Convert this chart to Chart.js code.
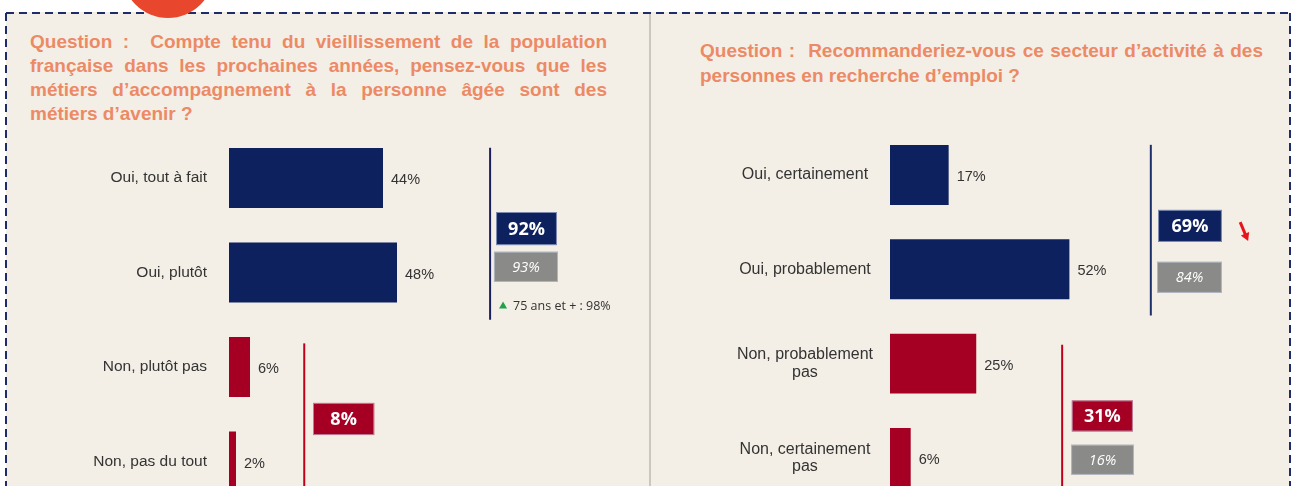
<!DOCTYPE html>
<html>
<head>
<meta charset="utf-8">
<script src="https://cdn.jsdelivr.net/npm/chart.js@4.4.1/dist/chart.umd.min.js"></script>
<style>
  html, body { margin: 0; padding: 0; width: 1296px; height: 486px; overflow: hidden; background: #fff; }
  #bg { position: absolute; left: 0; top: 0; }
  .q { position: absolute; font: bold 19px "Liberation Sans", Arial, sans-serif; color: #ec8a66; }
  .q div { text-align: justify; text-align-last: justify; }
  .q div.last { text-align-last: left; }
  #q1 { left: 30px; top: 30px; width: 577px; line-height: 24px; }
  #q2 { left: 700px; top: 38px; width: 563px; line-height: 25px; }
  canvas { position: absolute; }
  #c1 { left: 0; top: 0; }
  #c2 { left: 650px; top: 0; }
</style>
</head>
<body>
<svg id="bg" width="1296" height="486">
  <rect x="6" y="12" width="1284" height="474" fill="#f4efe6"/>
  <line x1="650" y1="12" x2="650" y2="486" stroke="#cbc6be" stroke-width="2"/>
  <line x1="6" y1="13" x2="1290" y2="13" stroke="#1e2d6a" stroke-width="2" stroke-dasharray="8 5"/>
  <line x1="6" y1="13" x2="6" y2="486" stroke="#1e2d6a" stroke-width="2" stroke-dasharray="8 5"/>
  <line x1="1290" y1="13" x2="1290" y2="486" stroke="#1e2d6a" stroke-width="2" stroke-dasharray="8 5"/>
  <circle cx="168" cy="-28" r="46" fill="#e8472d"/>
</svg>
<div class="q" id="q1">
  <div>Question :&nbsp; Compte tenu du vieillissement de la population</div>
  <div>française dans les prochaines années, pensez-vous que les</div>
  <div>métiers d’accompagnement à la personne âgée sont des</div>
  <div class="last">métiers d’avenir ?</div>
</div>
<div class="q" id="q2">
  <div>Question :&nbsp; Recommanderiez-vous ce secteur d’activité à des</div>
  <div class="last">personnes en recherche d’emploi ?</div>
</div>
<canvas id="c1" width="650" height="540"></canvas>
<canvas id="c2" width="646" height="540"></canvas>
<script>
// left question
const leftCategories = ['Oui, tout à fait', 'Oui, plutôt', 'Non, plutôt pas', 'Non, pas du tout'];
const leftValues = [44, 48, 6, 2];
const leftYes = 92;
const leftYesBefore = 93;
const leftNo = 8;
const leftNote = '75 ans et + : 98%';

// right question
const rightCategories = ['Oui, certainement', 'Oui, probablement', ['Non, probablement', 'pas'], ['Non, certainement', 'pas']];
const rightValues = [17, 52, 25, 6];
const rightYes = 69;
const rightYesBefore = 84;
const rightNo = 31;
const rightNoBefore = 16;

const NAVY = '#0c215e';
const RED = '#a50023';
const GREY = '#8a8a88';
const TXT = '#333333';
const FONT = '"Liberation Sans", Arial, sans-serif';

const valueLabels = {
  id: 'valueLabels',
  afterDatasetsDraw(chart) {
    const ctx = chart.ctx;
    const meta = chart.getDatasetMeta(0);
    ctx.save();
    ctx.font = '14.5px ' + FONT;
    ctx.fillStyle = TXT;
    ctx.textBaseline = 'middle';
    ctx.textAlign = 'left';
    meta.data.forEach((bar, i) => {
      ctx.fillText(chart.data.datasets[0].data[i] + '%', bar.x + 8, bar.y + 2);
    });
    ctx.restore();
  }
};

// small helpers for the summary marks; x in % units, y in category units
function vline(chart, x, y0, y1, color) {
  const ctx = chart.ctx, xs = chart.scales.x, ys = chart.scales.y;
  ctx.save();
  ctx.strokeStyle = color;
  ctx.lineWidth = 2;
  ctx.beginPath();
  ctx.moveTo(xs.getPixelForValue(x), ys.getPixelForValue(y0));
  ctx.lineTo(xs.getPixelForValue(x), ys.getPixelForValue(y1));
  ctx.stroke();
  ctx.restore();
}

function box(chart, x0, x1, y0, y1, fill, text, font) {
  const ctx = chart.ctx, xs = chart.scales.x, ys = chart.scales.y;
  const l = xs.getPixelForValue(x0), r = xs.getPixelForValue(x1);
  const t = ys.getPixelForValue(y0), b = ys.getPixelForValue(y1);
  ctx.save();
  ctx.fillStyle = fill;
  ctx.fillRect(l, t, r - l, b - t);
  ctx.strokeStyle = 'rgba(200,210,230,0.6)';
  ctx.lineWidth = 1;
  ctx.strokeRect(l + 0.5, t + 0.5, r - l - 1, b - t - 1);
  ctx.fillStyle = '#fff';
  ctx.font = font;
  ctx.textAlign = 'center';
  ctx.textBaseline = 'middle';
  ctx.fillText(text, (l + r) / 2, (t + b) / 2 + 1);
  ctx.restore();
}

const BIG = 'bold 18px "Open Sans", sans-serif';
const SMALL = 'italic 14.5px "Open Sans", sans-serif';

const leftSummary = {
  id: 'leftSummary',
  afterDatasetsDraw(chart) {
    vline(chart, 74.6, -0.32, 1.5, '#1b1f5e');
    box(chart, 76.3, 93.7, 0.36, 0.71, NAVY, leftYes + '%', BIG);
    box(chart, 75.7, 94.0, 0.78, 1.1, GREY, leftYesBefore + '%', SMALL);
    vline(chart, 21.5, 1.75, 3.4, '#c0001a');
    box(chart, 24.0, 41.5, 2.38, 2.72, RED, leftNo + '%', BIG);
    const ctx = chart.ctx, xs = chart.scales.x, ys = chart.scales.y;
    const ty = ys.getPixelForValue(1.35);
    const tx = xs.getPixelForValue(78.3);
    ctx.save();
    ctx.fillStyle = '#1fa34a';
    ctx.beginPath();
    ctx.moveTo(tx, ty - 4);
    ctx.lineTo(tx + 4, ty + 3);
    ctx.lineTo(tx - 4, ty + 3);
    ctx.closePath();
    ctx.fill();
    ctx.fillStyle = TXT;
    ctx.font = '12.5px "Open Sans", sans-serif';
    ctx.textBaseline = 'middle';
    ctx.fillText(leftNote, tx + 10, ty + 1);
    ctx.restore();
  }
};

const rightSummary = {
  id: 'rightSummary',
  afterDatasetsDraw(chart) {
    vline(chart, 75.6, -0.32, 1.49, '#1b2f6a');
    box(chart, 77.7, 96.2, 0.37, 0.71, NAVY, rightYes + '%', BIG);
    box(chart, 77.4, 96.2, 0.92, 1.25, GREY, rightYesBefore + '%', SMALL);
    vline(chart, 49.9, 1.8, 3.4, '#c0001a');
    box(chart, 52.7, 70.4, 2.39, 2.72, RED, rightNo + '%', BIG);
    box(chart, 52.5, 70.7, 2.86, 3.18, GREY, rightNoBefore + '%', SMALL);
    // red arrow: going down
    const ctx = chart.ctx, xs = chart.scales.x, ys = chart.scales.y;
    const x0 = xs.getPixelForValue(101.5), y0 = ys.getPixelForValue(0.5);
    const x1 = xs.getPixelForValue(103.8), y1 = ys.getPixelForValue(0.7);
    const a = Math.atan2(y1 - y0, x1 - x0);
    ctx.save();
    ctx.strokeStyle = '#e8141c';
    ctx.fillStyle = '#e8141c';
    ctx.lineWidth = 3;
    ctx.beginPath();
    ctx.moveTo(x0, y0);
    ctx.lineTo(x1 - 5 * Math.cos(a), y1 - 5 * Math.sin(a));
    ctx.stroke();
    ctx.beginPath();
    ctx.moveTo(x1, y1);
    ctx.lineTo(x1 - 8 * Math.cos(a) + 4.5 * Math.sin(a), y1 - 8 * Math.sin(a) - 4.5 * Math.cos(a));
    ctx.lineTo(x1 - 8 * Math.cos(a) - 4.5 * Math.sin(a), y1 - 8 * Math.sin(a) + 4.5 * Math.cos(a));
    ctx.closePath();
    ctx.fill();
    ctx.restore();
  }
};

function makeChart(id, labels, values, opts, extra) {
  return new Chart(document.getElementById(id), {
    type: 'bar',
    data: {
      labels: labels,
      datasets: [{
        data: values,
        backgroundColor: values.map((v, i) => i < 2 ? NAVY : RED),
        borderWidth: 0,
        barPercentage: 0.635,
        categoryPercentage: 1
      }]
    },
    options: {
      indexAxis: 'y',
      responsive: false,
      animation: false,
      layout: { padding: opts.padding },
      plugins: { legend: { display: false }, tooltip: { enabled: false } },
      scales: {
        x: { display: false, min: 0, max: 100 },
        y: {
          grid: { display: false, drawTicks: false },
          border: { display: false },
          ticks: {
            padding: opts.tickPad,
            crossAlign: opts.crossAlign,
            color: TXT,
            font: { family: FONT, size: opts.fontSize, lineHeight: 1.1 }
          },
          afterFit: s => { s.width = opts.axisWidth; }
        }
      }
    },
    plugins: [valueLabels, extra]
  });
}

// canvas is taller than the page: the last bars are cut at the bottom edge
makeChart('c1', leftCategories, leftValues, {
  padding: { top: 130.75, right: 71, bottom: 31.25, left: 0 },
  tickPad: 22, crossAlign: 'near', axisWidth: 229, fontSize: 15.5
}, leftSummary);

makeChart('c2', rightCategories, rightValues, {
  padding: { top: 127.85, right: 61, bottom: 34.95, left: 0 },
  tickPad: 17, crossAlign: 'center', axisWidth: 240, fontSize: 16
}, rightSummary);
</script>
</body>
</html>
